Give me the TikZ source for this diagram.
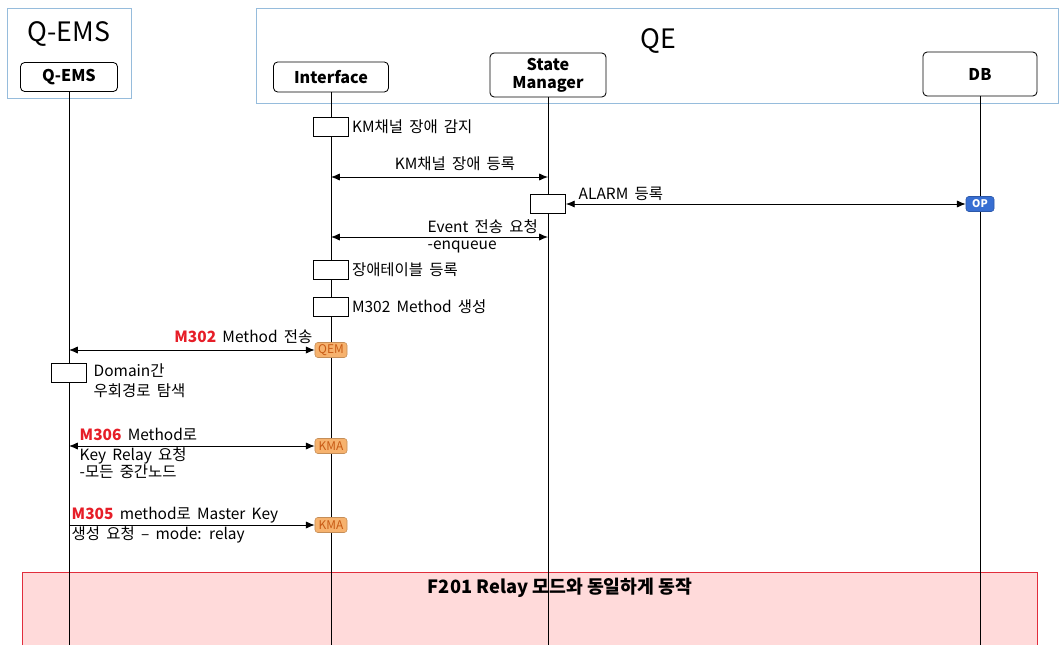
\documentclass[tikz,border=0pt]{standalone}
\usepackage{fontspec}
\setmainfont[WordSpace=1.8]{Noto Sans CJK KR}
\newfontfamily\relayfont{Noto Sans CJK KR}
\usepackage{xcolor}
\definecolor{grpblue}{RGB}{150,188,220}
\definecolor{tagorange}{RGB}{246,178,110}
\definecolor{tagtext}{RGB}{200,90,20}
\definecolor{opblue}{RGB}{55,110,210}
\definecolor{relaypink}{RGB}{255,218,218}
\definecolor{relayred}{RGB}{225,45,60}
\definecolor{mred}{RGB}{230,30,40}
\usetikzlibrary{arrows.meta,positioning}

\begin{document}
\begin{tikzpicture}[
  x=0.025cm, y=-0.025cm,
  font=\fontsize{11}{13}\selectfont,
  grp/.style={draw=grpblue, line width=0.7pt},
  actor/.style={draw, rounded corners=3pt, line width=0.6pt, align=center,
                inner sep=0pt, font=\fontsize{11.5}{13}\selectfont\bfseries},
  life/.style={line width=0.6pt},
  act/.style={draw, fill=white, line width=0.6pt, inner sep=0pt,
              minimum width=0.875cm, minimum height=0.475cm},
  lbl/.style={inner sep=1pt, align=left},
  both/.style={{Latex[length=2.2mm,width=1.8mm]}-{Latex[length=2.2mm,width=1.8mm]}, line width=0.6pt},
  arr/.style={-{Latex[length=2.2mm,width=1.8mm]}, line width=0.6pt},
  tag/.style={draw=tagorange!80!black, fill=tagorange, rounded corners=2pt, text=tagtext,
              font=\fontsize{8.5}{9}\selectfont, inner sep=0pt,
              minimum width=0.8cm, minimum height=0.375cm}
]
\useasboundingbox (0,0) rectangle (1059,645);

% groups
\draw[grp] (7,8) rectangle (131,98);
\draw[grp] (256,8) rectangle (1058,103);
\node[font=\fontsize{19}{22}\selectfont] (tqems) at (69,34) {Q-EMS};
\node[font=\fontsize{19}{22}\selectfont] (tqe)   at (658,41) {QE};

% relay block
\fill[relaypink] (22,572) rectangle (1037,645);
\draw[relayred, line width=0.6pt] (22,645) -- (22,572) -- (1037,572) -- (1037,645);
\node[font=\relayfont\fontsize{13}{15}\selectfont\bfseries] (relay) at (560,588) {F201 Relay 모드와 동일하게 동작};

% participants
\node[actor, minimum width=2.425cm, minimum height=0.725cm] (qems) at (69,77)  {Q-EMS};
\node[actor, minimum width=2.875cm, minimum height=0.75cm]  (intf) at (331,77) {Interface};
\node[actor, minimum width=2.9cm,   minimum height=1.1cm]   (sm)   at (548,75) {State\\Manager};
\node[actor, minimum width=2.85cm,  minimum height=1.1cm]   (db)   at (980,74) {DB};

\coordinate (bot) at (0,645);
\foreach \p in {qems,intf,sm,db}
  \draw[life] (\p.south) -- (\p.south |- bot);

% activations
\node[act] (a1) at (331,127) {};
\node[lbl, right=1pt of a1] (l1) {KM채널 장애 감지};
\node[act] (a2) at (548,204) {};
\node[act] (a3) at (331,270) {};
\node[lbl, right=1pt of a3] (l3) {장애테이블 등록};
\node[act] (a4) at (331,307) {};
\node[lbl, right=1pt of a4] (l4) {M302 Method 생성};
\node[act] (a5) at (69,373) {};
\node[lbl, anchor=north west] (l5) at (92,362) {Domain간\\[1pt]우회경로 탐색};

% tags
\node[tag] (qem)  at (331,350) {QEM};
\node[tag] (kma1) at (331,446) {KMA};
\node[tag] (kma2) at (331,525) {KMA};
\node[draw=opblue!80!black, fill=opblue, rounded corners=2pt, text=white,
      font=\fontsize{7.5}{8}\selectfont\bfseries, inner sep=0pt,
      minimum width=0.7cm, minimum height=0.375cm] (op) at (980,204) {OP};

% messages
\coordinate (m1l) at (331,177);
\coordinate (m1r) at (548,177);
\draw[both] (m1l) -- (m1r);
\node[lbl] (t1) at (455,164) {KM채널 장애 등록};

\draw[both] (a2.east) -- (op.west);
\node[lbl, anchor=west] (t2) at (577,194) {ALARM 등록};

\coordinate (m3l) at (331,237);
\coordinate (m3r) at (548,237);
\draw[both] (m3l) -- (m3r);
\node[lbl, anchor=west] (t3a) at (426,227) {Event 전송 요청};
\node[lbl, anchor=west] (t3b) at (426,247) {-enqueue};

\coordinate (m4l) at (69,350);
\draw[both] (m4l) -- (qem.west);
\node[lbl, anchor=east] (t4) at (314,337) {\textbf{\color{mred}M302} Method 전송};

\coordinate (m5l) at (69,446);
\draw[both] (m5l) -- (kma1.west);
\node[lbl, anchor=west] (t5a) at (78,434) {\textbf{\color{mred}M306} Method로};
\node[lbl, anchor=north west] (t5b) at (78,446) {Key Relay 요청\\[-1pt]-모든 중간노드};

\coordinate (m6l) at (69,525);
\draw[arr] (m6l) -- (kma2.west);
\node[lbl, anchor=west] (t6a) at (70,515) {\textbf{\color{mred}M305} method로 Master Key};
\node[lbl, anchor=west] (t6b) at (70,535) {생성 요청 – mode: relay};
\end{tikzpicture}
\end{document}
